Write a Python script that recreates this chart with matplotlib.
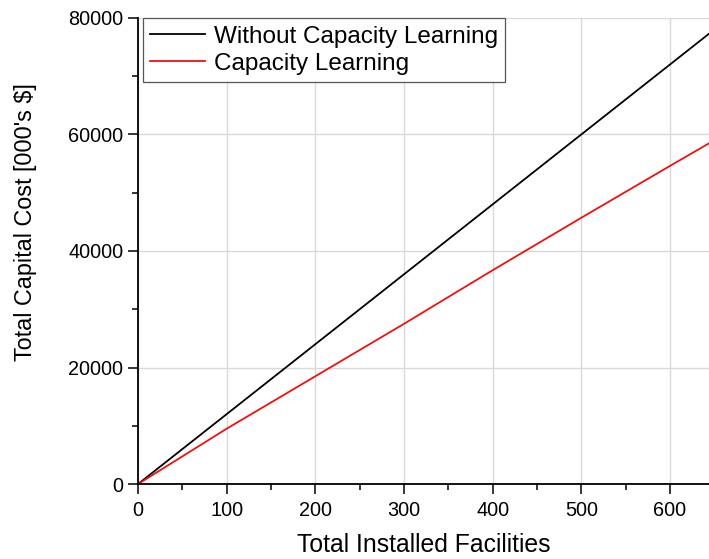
import numpy as np
import matplotlib
matplotlib.use("Agg")
from matplotlib import pyplot as plt
from matplotlib.ticker import MultipleLocator

plt.rcParams['font.family'] = ['Liberation Sans', 'DejaVu Sans']

# installed facilities and cumulative capital cost (000's $)
facilities = [0, 100, 200, 300, 400, 500, 600, 650]
cost_no_learning = [0, 12000, 24000, 36000, 48000, 60000, 72000, 78000]
cost_learning = [0, 9500, 18500, 27500, 36700, 45700, 54600, 59000]

fig = plt.figure(figsize=(7.09, 5.59), dpi=100)
ax = fig.add_axes([0.1946, 0.134, 0.8054, 0.834])

ax.plot(facilities, cost_no_learning, color="black", lw=1.3,
        label="Without Capacity Learning")
ax.plot(facilities, cost_learning, color="#ee1111", lw=1.3,
        label="Capacity Learning")

ax.set_xlim(0, 644)
ax.set_ylim(0, 80000)
ax.xaxis.set_major_locator(MultipleLocator(100))
ax.xaxis.set_minor_locator(MultipleLocator(50))
ax.yaxis.set_major_locator(MultipleLocator(20000))
ax.yaxis.set_minor_locator(MultipleLocator(10000))

ax.grid(True, which="major", color="#d9d9d9", lw=1.0)
ax.set_axisbelow(True)

for side in ("top", "right"):
    ax.spines[side].set_visible(False)
for side in ("left", "bottom"):
    ax.spines[side].set_linewidth(1.3)

ax.tick_params(which="major", direction="out", length=7.5, width=1.1,
               labelsize=14.3)
ax.tick_params(axis="x", which="major", pad=5)
ax.tick_params(axis="y", which="major", pad=3)
ax.tick_params(which="minor", direction="out", length=4, width=1.1)

ax.set_xlabel("Total Installed Facilities", fontsize=17.8, labelpad=9)
ax.set_ylabel("Total Capital Cost [000's $]", fontsize=16.8)
ax.yaxis.set_label_coords(-0.177, 0.562)

leg = ax.legend(loc="upper left", bbox_to_anchor=(0.008, 1.0), fontsize=17.5,
                fancybox=False, framealpha=1, edgecolor="#555555",
                handlelength=2.25, handletextpad=0.35, labelspacing=0.2,
                borderpad=0.32, borderaxespad=0.0)
leg.get_frame().set_linewidth(0.9)

fig.savefig("out.png", dpi=100)
